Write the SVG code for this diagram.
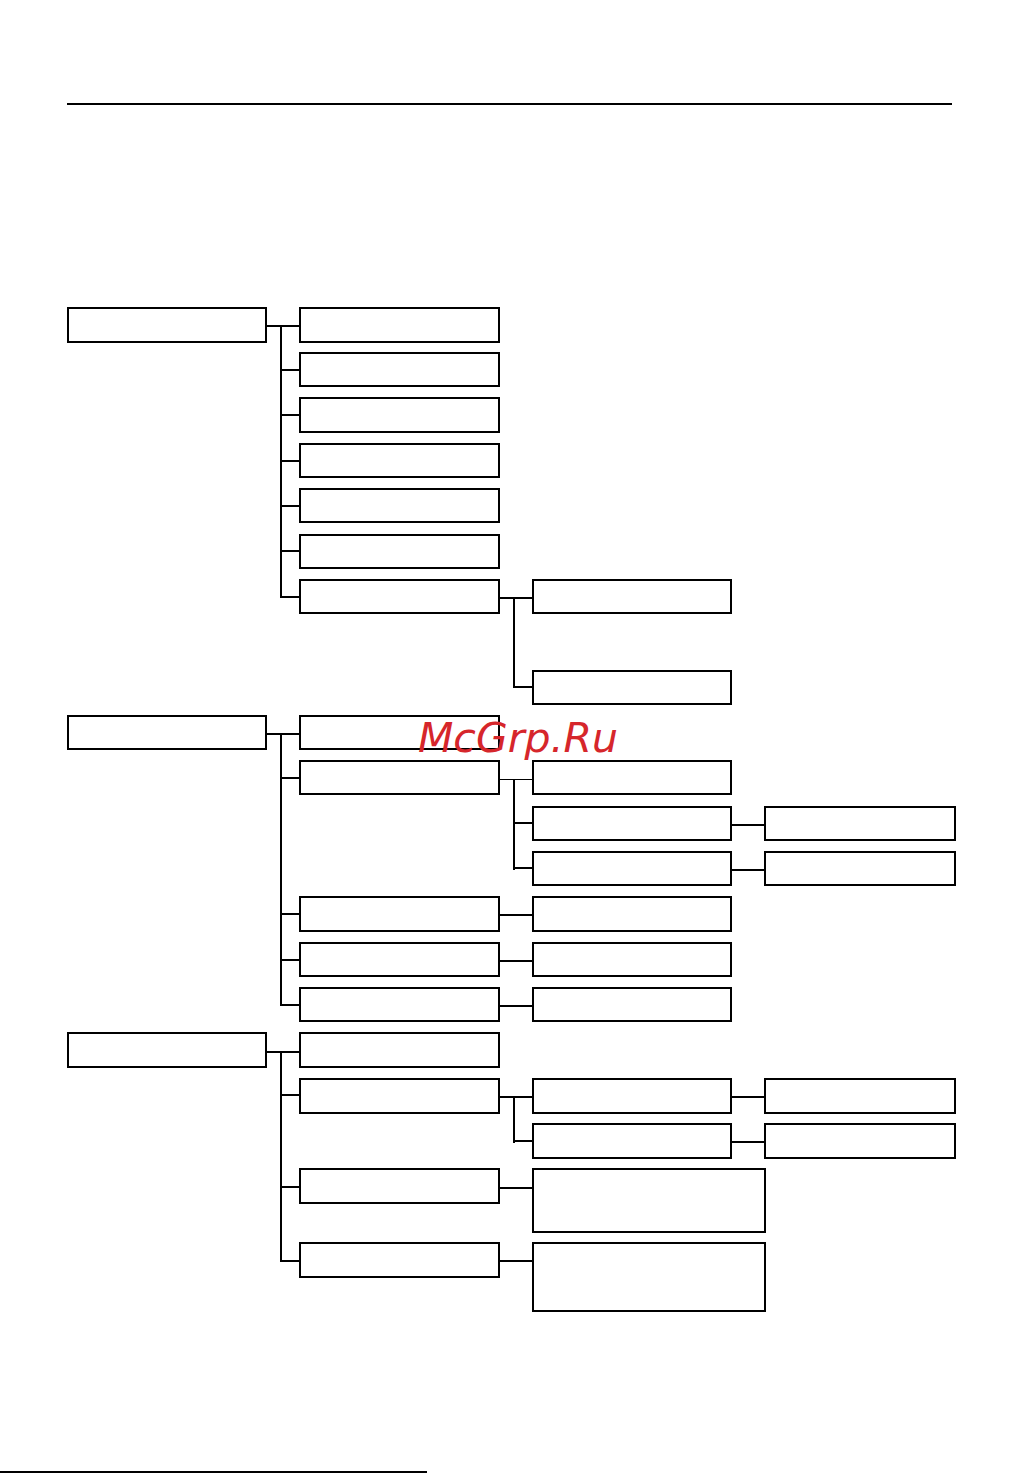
<svg xmlns="http://www.w3.org/2000/svg" width="1021" height="1473" viewBox="0 0 1021 1473">
<style>
.b{fill:#fff;stroke:#000;stroke-width:2}
.c{fill:none;stroke:#000;stroke-width:2}
.t{fill:none;stroke:#000;stroke-width:1}
.wm{font-family:"DejaVu Sans",sans-serif;font-style:italic;font-size:41px;fill:#d6262b}
</style>
<rect width="1021" height="1473" fill="#fff"/>
<line x1="67" y1="104" x2="952" y2="104" class="c" stroke-width="1.5"/>
<line x1="0" y1="1472" x2="427" y2="1472" class="c"/>
<g id="connectors">
<!-- group 1 -->
<path class="c" d="M266 326H300M281 326V597H300M281 370H300M281 415H300M281 461H300M281 506H300M281 551H300"/>
<path class="c" d="M499 598H533M514 598V687H533"/>
<!-- group 2 -->
<path class="c" d="M266 734H300M281 734V1005H300M281 778H300M281 914H300M281 960H300"/>
<path class="t" d="M499 779.5H533"/>
<path class="c" d="M514 779V870M514 823H533M514 868H533"/>
<path class="c" d="M731 825H765M731 870H765"/>
<path class="c" d="M499 915H533M499 961H533M499 1006H533"/>
<!-- group 3 -->
<path class="c" d="M266 1052H300M281 1052V1261H300M281 1095H300M281 1187H300"/>
<path class="c" d="M499 1097H533M514 1097V1143M514 1141H533"/>
<path class="c" d="M731 1097H765M731 1142H765"/>
<path class="c" d="M499 1188H533M499 1261H533"/>
</g>
<g id="g1-root"><rect class="b" x="68" y="308" width="198" height="34"/></g>
<g id="g1-a"><rect class="b" x="300" y="308" width="199" height="34"/></g>
<g id="g1-b"><rect class="b" x="300" y="353" width="199" height="33"/></g>
<g id="g1-c"><rect class="b" x="300" y="398" width="199" height="34"/></g>
<g id="g1-d"><rect class="b" x="300" y="444" width="199" height="33"/></g>
<g id="g1-e"><rect class="b" x="300" y="489" width="199" height="33"/></g>
<g id="g1-f"><rect class="b" x="300" y="535" width="199" height="33"/></g>
<g id="g1-g"><rect class="b" x="300" y="580" width="199" height="33"/></g>
<g id="g1-g1"><rect class="b" x="533" y="580" width="198" height="33"/></g>
<g id="g1-g2"><rect class="b" x="533" y="671" width="198" height="33"/></g>
<g id="g2-root"><rect class="b" x="68" y="716" width="198" height="33"/></g>
<g id="g2-a"><rect class="b" x="300" y="716" width="199" height="33"/></g>
<g id="g2-b"><rect class="b" x="300" y="761" width="199" height="33"/></g>
<g id="g2-b1"><rect class="b" x="533" y="761" width="198" height="33"/></g>
<g id="g2-b2"><rect class="b" x="533" y="807" width="198" height="33"/></g>
<g id="g2-b3"><rect class="b" x="533" y="852" width="198" height="33"/></g>
<g id="g2-b2x"><rect class="b" x="765" y="807" width="190" height="33"/></g>
<g id="g2-b3x"><rect class="b" x="765" y="852" width="190" height="33"/></g>
<g id="g2-c"><rect class="b" x="300" y="897" width="199" height="34"/></g>
<g id="g2-c1"><rect class="b" x="533" y="897" width="198" height="34"/></g>
<g id="g2-d"><rect class="b" x="300" y="943" width="199" height="33"/></g>
<g id="g2-d1"><rect class="b" x="533" y="943" width="198" height="33"/></g>
<g id="g2-e"><rect class="b" x="300" y="988" width="199" height="33"/></g>
<g id="g2-e1"><rect class="b" x="533" y="988" width="198" height="33"/></g>
<g id="g3-root"><rect class="b" x="68" y="1033" width="198" height="34"/></g>
<g id="g3-a"><rect class="b" x="300" y="1033" width="199" height="34"/></g>
<g id="g3-b"><rect class="b" x="300" y="1079" width="199" height="34"/></g>
<g id="g3-b1"><rect class="b" x="533" y="1079" width="198" height="34"/></g>
<g id="g3-b2"><rect class="b" x="533" y="1124" width="198" height="34"/></g>
<g id="g3-b1x"><rect class="b" x="765" y="1079" width="190" height="34"/></g>
<g id="g3-b2x"><rect class="b" x="765" y="1124" width="190" height="34"/></g>
<g id="g3-c"><rect class="b" x="300" y="1169" width="199" height="34"/></g>
<g id="g3-c1"><rect class="b" x="533" y="1169" width="232" height="63"/></g>
<g id="g3-d"><rect class="b" x="300" y="1243" width="199" height="34"/></g>
<g id="g3-d1"><rect class="b" x="533" y="1243" width="232" height="68"/></g>
<text class="wm" x="418" y="752">McGrp.Ru</text>
</svg>
